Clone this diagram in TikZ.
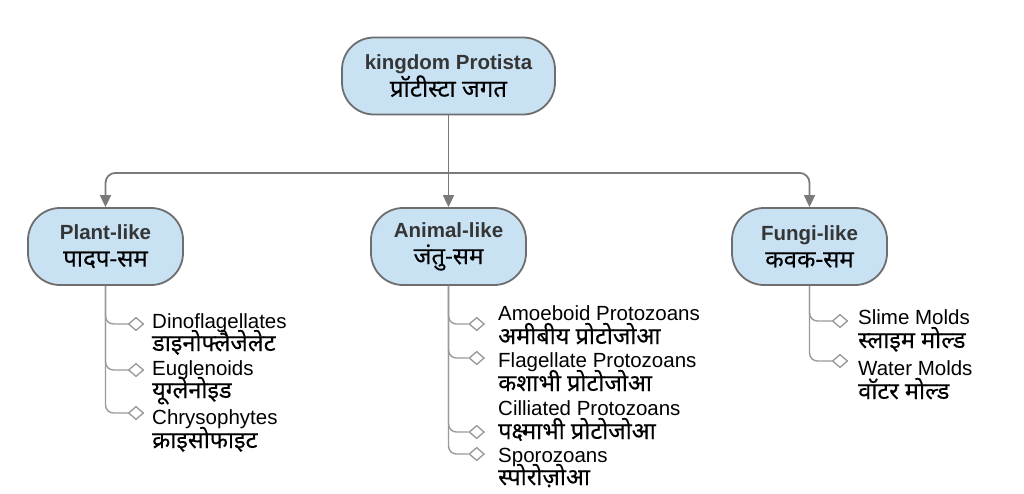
\documentclass[tikz,border=0pt]{standalone}
\usepackage{fontspec}
\setmainfont{Liberation Sans}
\newfontfamily\dev[Script=Devanagari,FakeBold=0.25]{Noto Sans}
\usetikzlibrary{arrows.meta,shapes.geometric}
\definecolor{boxfill}{HTML}{C8E2F4}
\definecolor{boxline}{HTML}{6E6E6E}
\definecolor{connc}{HTML}{7A7A7A}
\definecolor{branchc}{HTML}{9A9A9A}
\definecolor{titlecol}{HTML}{353535}
\begin{document}
\begin{tikzpicture}[x=1pt,y=-1pt,
  box/.style={draw=boxline, fill=boxfill, line width=1.8pt, rounded corners=32pt,
    minimum height=77pt, align=center, inner sep=0pt,
    font=\fontsize{20.5}{27}\selectfont},
  conn/.style={draw=connc, line width=1.8pt, rounded corners=10pt},
  arr/.style={conn, -{Triangle[width=11pt,length=12pt]}},
  branch/.style={draw=branchc, line width=1.4pt, rounded corners=8pt},
  dia/.style={diamond, draw=branchc, line width=1.2pt, fill=white, aspect=1.15,
    minimum width=15pt, minimum height=13pt, inner sep=0pt},
  lat/.style={anchor=base west, inner sep=0pt, text=black, font=\fontsize{20.5}{24}\selectfont},
  dv/.style={anchor=base west, inner sep=0pt, text=black, font=\fontsize{23.5}{24}\dev}
]
\useasboundingbox[fill=white] (0,0) rectangle (1024,493);

% boxes
\node[box, minimum width=213pt] (root) at (448.5,76)
  {{\bfseries\color{titlecol}kingdom Protista}\\{\fontsize{24}{27}\dev प्रॉटीस्टा जगत}};
\node[box, minimum width=155pt] (plant) at (105.5,246.5)
  {{\bfseries\color{titlecol}Plant-like}\\{\fontsize{24}{27}\dev पादप-सम}};
\node[box, minimum width=155pt] (animal) at (448.5,246.5)
  {{\bfseries\color{titlecol}Animal-like}\\{\fontsize{24}{27}\dev जंतु-सम}};
\node[box, minimum width=155pt] (fungi) at (809.5,246.5)
  {{\bfseries\color{titlecol}Fungi-like}\\{\fontsize{24}{27}\dev कवक-सम}};

% top connectors
\path (root.south) ++(0,57.5) coordinate (bus);
\draw[arr] (root.south) -- (animal.north);
\draw[arr] (bus) -| (plant.north);
\draw[arr] (bus) -| (fungi.north);

% plant-like items
\node[dia] (p1) at (136,324) {};
\node[dia] (p2) at (136,370) {};
\node[dia] (p3) at (136,413) {};
\draw[branch] (plant.south) |- (p1.west);
\draw[branch] (plant.south) |- (p2.west);
\draw[branch] (plant.south) |- (p3.west);
\node[dia] at (p1) {};
\node[dia] at (p2) {};
\node[dia] at (p3) {};
\node[lat] (p1a) at (152,328) {Dinoflagellates};
\node[dv]  (p1b) at (152,351) {डाइनोफ्लैजेलेट};
\node[lat] (p2a) at (152,375) {Euglenoids};
\node[dv]  (p2b) at (152,398) {यूग्लेनोइड};
\node[lat] (p3a) at (152,424) {Chrysophytes};
\node[dv]  (p3b) at (152,448) {क्राइसोफाइट};

% animal-like items
\node[dia] (a1) at (476.7,324) {};
\node[dia] (a2) at (476.7,358) {};
\node[dia] (a3) at (476.7,432) {};
\node[dia] (a4) at (476.7,454) {};
\draw[branch] (animal.south) |- (a1.west);
\draw[branch] (animal.south) |- (a2.west);
\draw[branch] (animal.south) |- (a3.west);
\draw[branch] (animal.south) |- (a4.west);
\node[dia] at (a1) {};
\node[dia] at (a2) {};
\node[dia] at (a3) {};
\node[dia] at (a4) {};
\node[lat] (a1a) at (498,320) {Amoeboid Protozoans};
\node[dv]  (a1b) at (498,344) {अमीबीय प्रोटोजोआ};
\node[lat] (a2a) at (498,367) {Flagellate Protozoans};
\node[dv]  (a2b) at (498,391) {कशाभी प्रोटोजोआ};
\node[lat] (a3a) at (498,415) {Cilliated Protozoans};
\node[dv]  (a3b) at (498,439) {पक्ष्माभी प्रोटोजोआ};
\node[lat] (a4a) at (498,462) {Sporozoans};
\node[dv]  (a4b) at (498,485) {स्पोरोज़ोआ};

% fungi-like items
\node[dia] (f1) at (840,321) {};
\node[dia] (f2) at (840,361) {};
\draw[branch] (fungi.south) |- (f1.west);
\draw[branch] (fungi.south) |- (f2.west);
\node[dia] at (f1) {};
\node[dia] at (f2) {};
\node[lat] (f1a) at (858,324) {Slime Molds};
\node[dv]  (f1b) at (858,348) {स्लाइम मोल्ड};
\node[lat] (f2a) at (858,375) {Water Molds};
\node[dv]  (f2b) at (858,399) {वॉटर मोल्ड};
\end{tikzpicture}
\end{document}
